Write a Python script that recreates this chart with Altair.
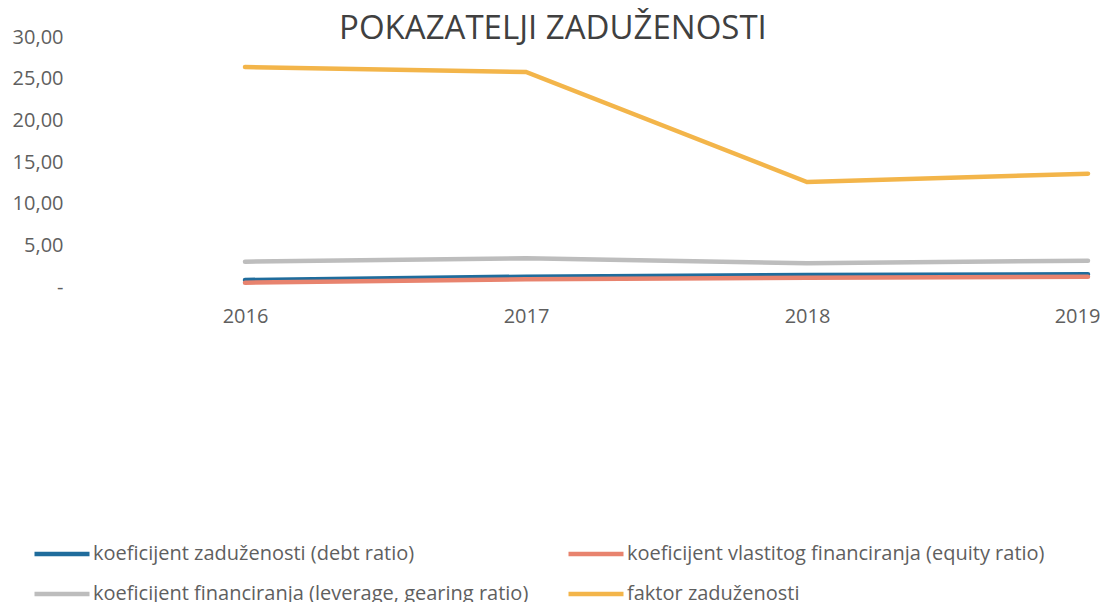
import altair as alt
import pandas as pd

years = ["2016", "2017", "2018", "2019"]
series_names = [
    "koeficijent zaduženosti (debt ratio)",
    "koeficijent vlastitog financiranja (equity ratio)",
    "koeficijent financiranja (leverage, gearing ratio)",
    "faktor zaduženosti",
]
debt_ratio = [0.84, 1.24, 1.44, 1.52]
equity_ratio = [0.52, 0.92, 1.12, 1.24]
leverage_ratio = [3.04, 3.44, 2.84, 3.16]
faktor = [26.4, 25.8, 12.6, 13.6]
colors = ["#1f6c9c", "#e8836e", "#bdbdbd", "#f3b54a"]

rows = []
for name, vals in zip(series_names, [debt_ratio, equity_ratio, leverage_ratio, faktor]):
    for y, v in zip(years, vals):
        rows.append({"year": y, "value": v, "series": name})
df = pd.DataFrame(rows)

FONT = "Open Sans"
GRAY = "#5f5f5f"

chart = alt.Chart(df).mark_line(strokeWidth=4.5, strokeCap="round").encode(
    x=alt.X("year:O", scale=alt.Scale(type="point", padding=0),
            axis=alt.Axis(title=None, labelAngle=0, domain=False, ticks=False,
                          labelPadding=19, labelFontSize=20, labelFont=FONT,
                          labelColor=GRAY,
                          labelOffset={"condition": {"test": "datum.value == '2019'", "value": -11},
                                       "value": 0})),
    y=alt.Y("value:Q", scale=alt.Scale(domain=[0, 30], nice=False),
            axis=alt.Axis(title=None, values=[0, 5, 10, 15, 20, 25, 30],
                          domain=False, ticks=False, grid=False,
                          labelPadding=182, labelFontSize=20, labelFont=FONT,
                          labelColor=GRAY,
                          labelExpr="datum.value == 0 ? '-' : replace(format(datum.value, '.2f'), '.', ',')")),
    color=alt.Color("series:N",
                    scale=alt.Scale(domain=series_names, range=colors),
                    sort=series_names,
                    legend=alt.Legend(title=None, orient="none", legendX=-213, legendY=487,
                                      direction="horizontal",
                                      columns=2, columnPadding=30, rowPadding=-14,
                                      symbolType="M-1,0L1,0", symbolSize=3025,
                                      symbolStrokeWidth=4.5, labelFontSize=20,
                                      labelFont=FONT, labelColor=GRAY,
                                      labelLimit=700, labelOffset=1)),
    order=alt.Order("year:O"),
).properties(
    width=843,
    height=250,
    padding={"left": 237, "top": 29, "right": 13, "bottom": 315},
    autosize=alt.AutoSizeParams(type="none"),
    title=alt.TitleParams("POKAZATELJI ZADUŽENOSTI", anchor="start", dx=327, dy=45,
                          fontSize=33, font=FONT, fontWeight="normal", color="#404040",
                          baseline="alphabetic", offset=0),
).configure(background="white").configure_view(strokeWidth=0, stroke="transparent")

chart.save("out.html", embed_options={"renderer": "svg", "actions": False})
